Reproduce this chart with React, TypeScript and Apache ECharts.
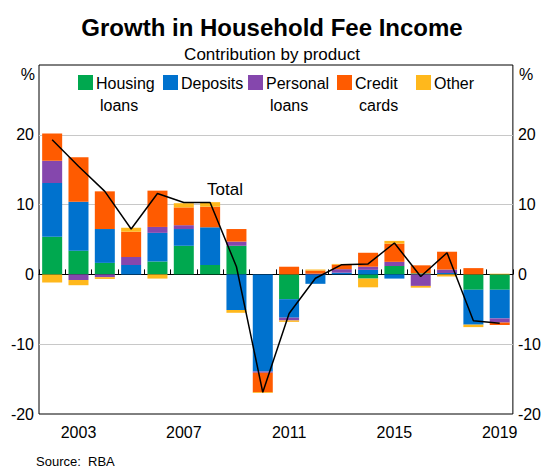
import React, { useEffect, useRef } from 'react';
import * as echarts from 'echarts';

const years = ['2002', '2003', '2004', '2005', '2006', '2007', '2008', '2009', '2010', '2011', '2012', '2013', '2014', '2015', '2016', '2017', '2018', '2019'];
const seriesNames = ['Housing loans', 'Deposits', 'Personal loans', 'Credit cards', 'Other'];
const legendLine1 = ['Housing', 'Deposits', 'Personal', 'Credit', 'Other'];
const legendLine2 = ['loans', '', 'loans', 'cards', ''];
const colors = ['#00A84F', '#0072CE', '#8547AD', '#FF5B00', '#FFB81C'];

const housing = [5.4, 3.4, 1.65, 0, 1.85, 4.1, 1.35, 4.1, 0, -3.55, 0, 0, -0.6, 1.2, 0.15, 0, -2.2, -2.2];
const deposits = [7.7, 7.0, 4.85, 1.36, 4.1, 2.4, 5.4, -5.1, -13.9, -2.65, -1.35, 0.25, 0.65, -0.6, 0, 0.2, -5.0, -4.1];
const personal = [3.2, -0.8, -0.4, 1.14, 0.85, 0.55, 0, 0.6, -0.2, -0.4, 0.1, 0.5, 0.45, 0.6, -1.65, 0.5, 0, -0.6];
const credit = [3.9, 6.4, 5.4, 3.6, 5.2, 2.55, 2.95, 1.8, -2.8, 1.1, 0.45, 0.65, 2.0, 2.6, 1.15, 2.55, 0.9, -0.35];
const other = [-1.15, -0.75, -0.25, 0.6, -0.6, 0.6, 0.65, -0.4, -0.1, -0.2, 0.15, 0.1, -1.25, 0.4, -0.25, -0.3, -0.35, 0.1];
const total = [19.3, 15.5, 11.9, 6.5, 11.6, 10.3, 10.3, 1.1, -16.9, -5.6, -0.55, 1.4, 1.5, 4.5, -0.3, 3.1, -6.65, -7.0];

const font = "'Liberation Sans', Arial, sans-serif";

export default function App() {
  const ref = useRef<HTMLDivElement>(null);
  useEffect(() => {
    const chart = echarts.init(ref.current!, null, { renderer: 'svg' });
    const values = [housing, deposits, personal, credit, other];
    const legendX = [78, 163, 248, 337, 416];

    const yAxisBase = {
      type: 'value',
      min: -20,
      max: 30,
      interval: 10,
      axisLine: { show: false },
      axisTick: { show: false },
      axisLabel: {
        formatter: (v: number) => (v === 30 ? '' : String(v)),
        color: '#000',
        fontSize: 16,
        fontFamily: font,
        margin: 5,
      },
    };

    const legendGraphics: any[] = [];
    legendLine1.forEach((t, i) => {
      legendGraphics.push({
        type: 'rect',
        shape: { x: legendX[i], y: 75, width: 15, height: 15 },
        style: { fill: colors[i] },
      });
      legendGraphics.push({
        type: 'text',
        x: legendX[i] + 18,
        y: 83,
        style: { text: t, fill: '#000', font: `16px ${font}`, textAlign: 'left', textVerticalAlign: 'middle' },
      });
      if (legendLine2[i]) {
        legendGraphics.push({
          type: 'text',
          x: legendX[i] + 22,
          y: 105,
          style: { text: legendLine2[i], fill: '#000', font: `16px ${font}`, textAlign: 'left', textVerticalAlign: 'middle' },
        });
      }
    });

    const option = {
      animation: false,
      textStyle: { fontFamily: font },
      title: [
        {
          text: 'Growth in Household Fee Income',
          left: 'center',
          top: 10,
          textStyle: { fontSize: 24, fontWeight: 'bold', color: '#000', fontFamily: font },
        },
        {
          text: 'Contribution by product',
          left: 'center',
          top: 41,
          textStyle: { fontSize: 17, fontWeight: 'normal', color: '#000', fontFamily: font },
        },
      ],
      grid: {
        left: 39,
        right: 29,
        top: 65,
        bottom: 54,
        show: true,
        borderColor: '#000',
        borderWidth: 1,
        backgroundColor: 'transparent',
      },
      xAxis: {
        type: 'category',
        data: years,
        boundaryGap: true,
        axisLine: { lineStyle: { color: '#000', width: 1 } },
        axisTick: { show: true, inside: true, length: 5, interval: 0, lineStyle: { color: '#000' } },
        axisLabel: {
          interval: (i: number) => i % 4 === 1,
          color: '#000',
          fontSize: 16,
          fontFamily: font,
          margin: 10,
        },
        splitLine: { show: false },
      },
      yAxis: [
        {
          ...yAxisBase,
          position: 'left',
          splitLine: {
            show: true,
            lineStyle: {
              color: ['transparent', '#c8c8c8', '#8c8c8c', '#c8c8c8', '#c8c8c8', 'transparent'],
              width: 1,
            },
          },
        },
        { ...yAxisBase, position: 'right', splitLine: { show: false } },
      ],
      series: [
        ...values.map((d, i) => ({
          name: seriesNames[i],
          type: 'bar',
          stack: 'contrib',
          barCategoryGap: '24%',
          data: d,
          itemStyle: { color: colors[i] },
        })),
        {
          name: 'Total',
          type: 'line',
          data: total,
          symbol: 'none',
          lineStyle: { color: '#000', width: 1.5 },
          z: 10,
        },
      ],
      graphic: [
        ...legendGraphics,
        {
          type: 'text',
          x: 207,
          y: 189,
          style: { text: 'Total', fill: '#000', font: `17px ${font}`, textAlign: 'left', textVerticalAlign: 'middle' },
        },
        {
          type: 'text',
          x: 35,
          y: 74,
          style: { text: '%', fill: '#000', font: `16px ${font}`, textAlign: 'right', textVerticalAlign: 'middle' },
        },
        {
          type: 'text',
          x: 519,
          y: 74,
          style: { text: '%', fill: '#000', font: `16px ${font}`, textAlign: 'left', textVerticalAlign: 'middle' },
        },
        {
          type: 'text',
          x: 36,
          y: 461,
          style: { text: 'Source:', fill: '#000', font: `13px ${font}`, textAlign: 'left', textVerticalAlign: 'middle' },
        },
        {
          type: 'text',
          x: 88,
          y: 461,
          style: { text: 'RBA', fill: '#000', font: `13px ${font}`, textAlign: 'left', textVerticalAlign: 'middle' },
        },
      ],
    };
    chart.setOption(option as any);
    return () => chart.dispose();
  }, []);
  return <div ref={ref} style={{ position: 'absolute', left: 0, top: 0, width: 544, height: 468 }} />;
}
